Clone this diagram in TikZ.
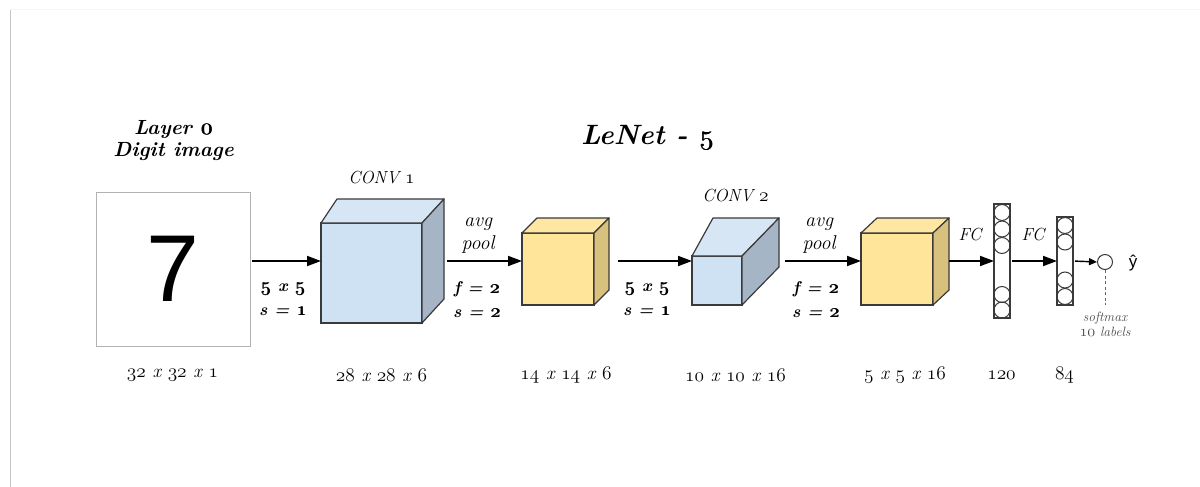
\documentclass[tikz,border=0pt]{standalone}
\usepackage{fontspec}
\usetikzlibrary{arrows.meta,calc}
\newfontfamily\arialish{Liberation Sans}
% old-style figures from the Latin Modern math italic font, slightly enlarged
\newcommand\osn[1]{\scalebox{1.12}{\usefont{OML}{lmm}{m}{it}#1}}
% heavier old-style figures, built by overprinting
\newcommand\osb[1]{\scalebox{1.12}{\usefont{OML}{lmm}{m}{it}\rlap{#1}\kern.45pt\rlap{#1}\kern.45pt#1}}
\definecolor{blueface}{HTML}{CFE2F3}
\definecolor{bluetop}{HTML}{D6E6F5}
\definecolor{blueside}{HTML}{A5B5C6}
\definecolor{yellowface}{HTML}{FFE599}
\definecolor{yellowtop}{HTML}{FFE7A3}
\definecolor{yellowside}{HTML}{D8C17D}
\definecolor{edgegray}{HTML}{3A3A3A}
\tikzset{
  face/.style={draw=edgegray, line width=1.2pt, inner sep=0pt, outer sep=0pt},
  edge/.style={draw=edgegray, line width=1.2pt, line join=round},
  flow/.style={line width=1.8pt, -{Triangle[length=14pt,width=10pt]}},
  dimlab/.style={font=\fontsize{19}{22}\selectfont\itshape, inner sep=0pt},
  convlab/.style={font=\fontsize{17.5}{22}\selectfont\itshape, inner sep=0pt},
  oplab/.style={font=\fontsize{17}{24}\selectfont\bfseries\itshape, align=center, inner sep=0pt},
  poollab/.style={font=\fontsize{20}{23}\selectfont\itshape, align=center, inner sep=0pt},
  fccol/.style={draw=edgegray, line width=1.1pt, inner sep=0pt, outer sep=0pt, minimum width=16pt},
  neuron/.style={circle, draw=edgegray, line width=1pt, inner sep=0pt, minimum size=16pt},
}
% front face node name, fill colours, left/right depth shift, rise
\newcommand\cubeshell[6]{%
  \draw[edge, fill=#2] (#1.north west) -- ++(#4,-#6) -- ($(#1.north east)+(#5,-#6)$) -- (#1.north east) -- cycle;
  \draw[edge, fill=#3] (#1.north east) -- ++(#5,-#6) -- ($(#1.south east)+(#5,-#6)$) -- (#1.south east) -- cycle;
  \coordinate (#1back) at ($(#1.east)+(#5,-#6)$);
}
\begin{document}
\begin{tikzpicture}[x=1pt, y=-1pt]
\useasboundingbox (0,0) rectangle (1200,487);
\fill[white] (0,0) rectangle (1200,487);
% card edges
\draw[black!4, line width=1pt] (10,10) -- (1200,10);
\draw[black!22, line width=1.6pt] (10.5,10) -- (10.5,487);

% title and input caption
\node[font=\fontsize{28}{30}\selectfont\bfseries\itshape, inner sep=0pt] (title) at (647.5,138) {LeNet - \osb{5}};
\node[font=\fontsize{20.5}{22}\selectfont\bfseries\itshape, align=center, inner sep=0pt] (layer) at (173.5,141) {Layer \osb{0}\\Digit image};

% input image
\node[draw=black!30, line width=1pt, fill=white, minimum width=154pt, minimum height=154pt, inner sep=0pt, outer sep=0pt] (in) at (173,269) {};
\node[font=\arialish\fontsize{95}{95}\selectfont, inner sep=0pt] (digit) at (in.center) {7};

% conv 1 volume
\node[face, fill=blueface, minimum width=101pt, minimum height=100pt] (c1) at (371.5,273) {};
\cubeshell{c1}{bluetop}{blueside}{16}{22}{24}
% pool 1 volume
\node[face, fill=yellowface, minimum width=72pt, minimum height=72pt] (p1) at (558,269) {};
\cubeshell{p1}{yellowtop}{yellowside}{15}{15}{15}
% conv 2 volume
\node[face, fill=blueface, minimum width=50pt, minimum height=49pt] (c2) at (717,280.5) {};
\cubeshell{c2}{bluetop}{blueside}{21}{37}{38}
% pool 2 volume
\node[face, fill=yellowface, minimum width=72pt, minimum height=72pt] (p2) at (897,269) {};
\cubeshell{p2}{yellowtop}{yellowside}{16}{16}{15}

% fully connected columns
\node[fccol, fill=white, minimum height=114pt] (f1) at (1002,261) {};
\foreach \yy in {212.5,229,245.5,294.5,310} \node[neuron] at (1002,\yy) {};
\node[fccol, fill=white, minimum height=88pt] (f2) at (1065,261) {};
\foreach \yy in {225.5,242,280,296.5} \node[neuron] at (1065,\yy) {};
% output unit
\node[circle, draw=edgegray, line width=1pt, inner sep=0pt, minimum size=15pt] (out) at (1105,262) {};
\coordinate (softend) at (1105,305);

% connectors
\draw[flow] (in.east |- 0,261) ++(2,0) -- (c1.west |- 0,261);
\draw[flow, shorten <=3pt] (c1back |- 0,261) -- (p1.west |- 0,261);
\draw[flow, shorten <=9pt] (p1back |- 0,261) -- (c2.west |- 0,261);
\draw[flow, shorten <=6pt] (c2back |- 0,261) -- (p2.west |- 0,261);
\draw[flow] (p2back |- 0,261) -- (f1.west);
\draw[flow, shorten <=2pt] (f1.east) -- (f2.west);
\draw[line width=1.4pt, -{Triangle[length=8pt,width=7pt]}, shorten <=2pt] (f2.east) -- (out.west);
\draw[black!60, line width=0.9pt, dash pattern=on 3pt off 2.5pt] (out.south) -- (softend);

% labels on connectors
\node[oplab] (op1) at (283,299) {\osb{5} x \osb{5}\\s = \osb{1}};
\node[poollab] (pl1) at (478,235.5) {avg\\pool};
\node[oplab] (op2) at (477,299.5) {f = \osb{2}\\s = \osb{2}};
\node[oplab] (op3) at (647,299.5) {\osb{5} x \osb{5}\\s = \osb{1}};
\node[poollab] (pl2) at (819,235.5) {avg\\pool};
\node[oplab] (op4) at (816,299.5) {f = \osb{2}\\s = \osb{2}};
\node[convlab] (fc1) at (970,235) {FC};
\node[convlab] (fc2) at (1033,235) {FC};
\node[font=\arialish\fontsize{17}{20}\selectfont, inner sep=0pt] (yhat) at (1133,263) {ŷ};
\node[font=\fontsize{13.5}{15}\selectfont\itshape, text=black!70, align=center, inner sep=0pt] (soft) at (1105,324.5) {softmax\\\osn{10} labels};

% layer names and sizes
\node[convlab] (conv1) at (381.5,178) {CONV \osn{1}};
\node[convlab] (conv2) at (735.5,196) {CONV \osn{2}};
\node[dimlab] (d0) at (172.5,375) {\osn{32} x \osn{32} x \osn{1}};
\node[dimlab] (d1) at (381.5,375) {\osn{28} x \osn{28} x \osn{6}};
\node[dimlab] (d2) at (566,375) {\osn{14} x \osn{14} x \osn{6}};
\node[dimlab] (d3) at (735.5,375) {\osn{10} x \osn{10} x \osn{16}};
\node[dimlab] (d4) at (905,375) {\osn{5} x \osn{5} x \osn{16}};
\node[dimlab] (d5) at (1001.5,375) {\osn{120}};
\node[dimlab] (d6) at (1064.5,375) {\osn{84}};
\end{tikzpicture}
\end{document}
